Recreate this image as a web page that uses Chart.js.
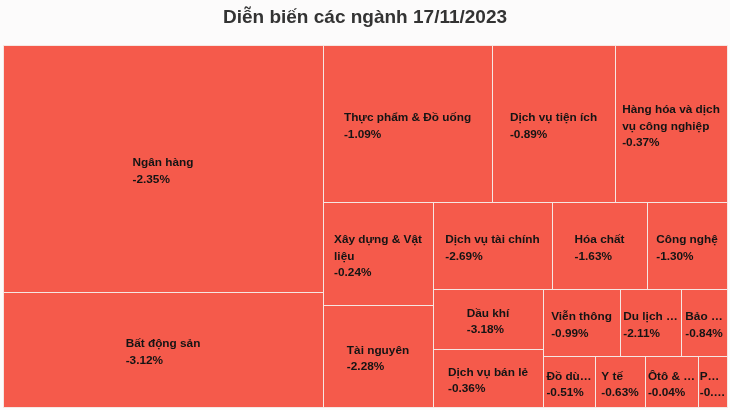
<!DOCTYPE html>
<html>
<head>
<meta charset="utf-8">
<title>Diễn biến các ngành</title>
<script src="https://cdn.jsdelivr.net/npm/chart.js@4.4.0/dist/chart.umd.min.js"></script>
<style>
    body { margin: 0; background: #fcfbfb; }
    #wrap { width: 730px; height: 410px; }
</style>
</head>
<body>
<div id="wrap"><canvas id="sector-chart"></canvas></div>
<script>
// Sector names, cell weights (size of each box) and daily change in %
const sectors = ['Ngân hàng', 'Bất động sản', 'Thực phẩm & Đồ uống', 'Dịch vụ tiện ích',
    'Hàng hóa và dịch vụ công nghiệp', 'Xây dựng & Vật liệu', 'Tài nguyên', 'Dịch vụ tài chính',
    'Hóa chất', 'Công nghệ', 'Dầu khí', 'Dịch vụ bán lẻ', 'Viễn thông', 'Du lịch và giải trí',
    'Bảo hiểm', 'Đồ dùng cá nhân', 'Y tế', 'Ôtô & phụ tùng', 'Phương tiện truyền thông'];
const weights = [790.4, 368.0, 265.3, 193.1, 175.8, 113.3, 112.2, 103.5, 82.7, 69.6,
    66.0, 63.8, 51.6, 40.9, 30.8, 26.5, 25.5, 27.0, 14.8];
const changes = [-2.35, -3.12, -1.09, -0.89, -0.37, -0.24, -2.28, -2.69, -1.63, -1.30,
    -3.18, -0.36, -0.99, -2.11, -0.84, -0.51, -0.63, -0.04, -0.45];

// Squarified layout with alternating strip direction (column first, then row, ...)
function layoutCells(values, W, H) {
    const total = values.reduce((a, b) => a + b, 0);
    const areas = values.map(v => v / total * W * H);
    const rects = [];
    let x = 0, y = 0, w = W, h = H;
    let vertical = true;
    let strip = [];
    const sum = list => list.reduce((a, b) => a + b, 0);
    const aspect = (area, thick) => {
        const len = area / thick;
        return Math.max(thick / len, len / thick);
    };
    const place = list => {
        const thick = sum(list) / (vertical ? h : w);
        let off = 0;
        list.forEach(a => {
            const len = a / thick;
            if (vertical) rects.push({ x: x, y: y + off, w: thick, h: len });
            else rects.push({ x: x + off, y: y, w: len, h: thick });
            off += len;
        });
        if (vertical) { x += thick; w -= thick; } else { y += thick; h -= thick; }
        vertical = !vertical;
    };
    areas.forEach(a => {
        if (strip.length) {
            const side = vertical ? h : w;
            const prev = strip[strip.length - 1];
            const before = aspect(prev, sum(strip) / side);
            const after = aspect(prev, (sum(strip) + a) / side);
            if (after > before) {
                place(strip);
                strip = [];
            }
        }
        strip.push(a);
    });
    place(strip);
    return rects;
}

// Rectangle element for one sector
class SectorBox extends Chart.Element {
    static id = 'sectorBox';
    static defaults = { backgroundColor: '#f55a4b', borderColor: '#f6e6e2', borderWidth: 1 };

    draw(ctx) {
        const o = this.options;
        const x0 = Math.round(this.x), y0 = Math.round(this.y);
        const x1 = Math.round(this.x + this.w), y1 = Math.round(this.y + this.h);
        ctx.save();
        ctx.fillStyle = o.backgroundColor;
        ctx.fillRect(x0, y0, x1 - x0, y1 - y0);
        ctx.strokeStyle = o.borderColor;
        ctx.lineWidth = o.borderWidth;
        ctx.strokeRect(x0 + 0.5, y0 + 0.5, x1 - x0, y1 - y0);
        ctx.restore();
    }
}

function clipText(ctx, text, avail) {
    let s = text;
    while (s.length > 1 && ctx.measureText(s + '…').width > avail) s = s.slice(0, -1);
    return s + '…';
}

function wrapText(ctx, text, avail) {
    const words = text.split(' ');
    const lines = [];
    let cur = '';
    words.forEach(wd => {
        const test = cur ? cur + ' ' + wd : wd;
        if (cur && ctx.measureText(test).width > avail) {
            lines.push(cur);
            cur = wd;
        } else {
            cur = test;
        }
    });
    if (cur) lines.push(cur);
    return lines;
}

// Treemap controller: boxes are placed in data units and mapped by the x/y scales
class SectorMapController extends Chart.DatasetController {
    static id = 'sectorMap';
    static defaults = { datasetElementType: false, dataElementType: 'sectorBox' };
    static overrides = {
        scales: {
            x: { type: 'linear', display: false },
            y: { type: 'linear', display: false, reverse: true }
        }
    };

    update(mode) {
        const meta = this._cachedMeta;
        this.updateElements(meta.data, 0, meta.data.length, mode);
    }

    updateElements(boxes, start, count, mode) {
        const xs = this._cachedMeta.xScale, ys = this._cachedMeta.yScale;
        const cells = layoutCells(this.getDataset().data, xs.max - xs.min, ys.max - ys.min);
        for (let i = start; i < start + count; i++) {
            const c = cells[i];
            const px0 = xs.getPixelForValue(xs.min + c.x), px1 = xs.getPixelForValue(xs.min + c.x + c.w);
            const py0 = ys.getPixelForValue(ys.min + c.y), py1 = ys.getPixelForValue(ys.min + c.y + c.h);
            this.updateElement(boxes[i], i, {
                x: Math.min(px0, px1), y: Math.min(py0, py1),
                w: Math.abs(px1 - px0), h: Math.abs(py1 - py0),
                options: this.resolveDataElementOptions(i, mode)
            }, mode);
        }
    }

    draw() {
        const ctx = this._ctx;
        const ds = this.getDataset();
        const boxes = this._cachedMeta.data;
        boxes.forEach(b => b.draw(ctx));

        // labels: name + change, left aligned block centred in the box
        ctx.save();
        ctx.font = 'bold 11.8px "Liberation Sans", Arial, sans-serif';
        ctx.fillStyle = '#141414';
        ctx.textBaseline = 'middle';
        ctx.textAlign = 'left';
        const lh = 16.5;
        boxes.forEach((b, i) => {
            const name = ds.names[i];
            const pct = ds.changes[i].toFixed(2) + '%';
            const avail = b.w - 3;
            let lines;
            if (ctx.measureText(name).width <= avail) lines = [name];
            else if (b.w >= 100) lines = wrapText(ctx, name, b.w - 10);
            else lines = [clipText(ctx, name, avail)];
            lines.push(ctx.measureText(pct).width <= avail ? pct : clipText(ctx, pct, avail));
            const blockW = Math.max(...lines.map(l => ctx.measureText(l).width));
            const left = b.x + b.w / 2 - blockW / 2;
            const top = b.y + b.h / 2 + 3 - lines.length * lh / 2;
            lines.forEach((l, k) => ctx.fillText(l, left, top + lh * k + lh / 2));
        });
        ctx.restore();
    }
}

Chart.register(SectorMapController, SectorBox);

const ctx = document.getElementById('sector-chart').getContext('2d');
new Chart(ctx, {
    type: 'sectorMap',
    data: {
        labels: sectors,
        datasets: [{
            data: weights,
            names: sectors,
            changes: changes,
            backgroundColor: '#f55a4b',
            borderColor: '#f6e6e2',
            borderWidth: 1
        }]
    },
    options: {
        responsive: true,
        maintainAspectRatio: false,
        animation: false,
        layout: { padding: { left: 3, right: 3, top: 0, bottom: 3 } },
        scales: {
            x: { min: 0, max: 200 },
            y: { min: 0, max: 100 }
        },
        plugins: {
            legend: { display: false },
            tooltip: { enabled: false },
            title: {
                display: true,
                text: 'Diễn biến các ngành 17/11/2023',
                color: '#333333',
                font: { size: 19, weight: 'bold', family: '"Liberation Sans", Arial, sans-serif' },
                padding: { top: 6, bottom: 16 }
            }
        }
    }
});
</script>
</body>
</html>
